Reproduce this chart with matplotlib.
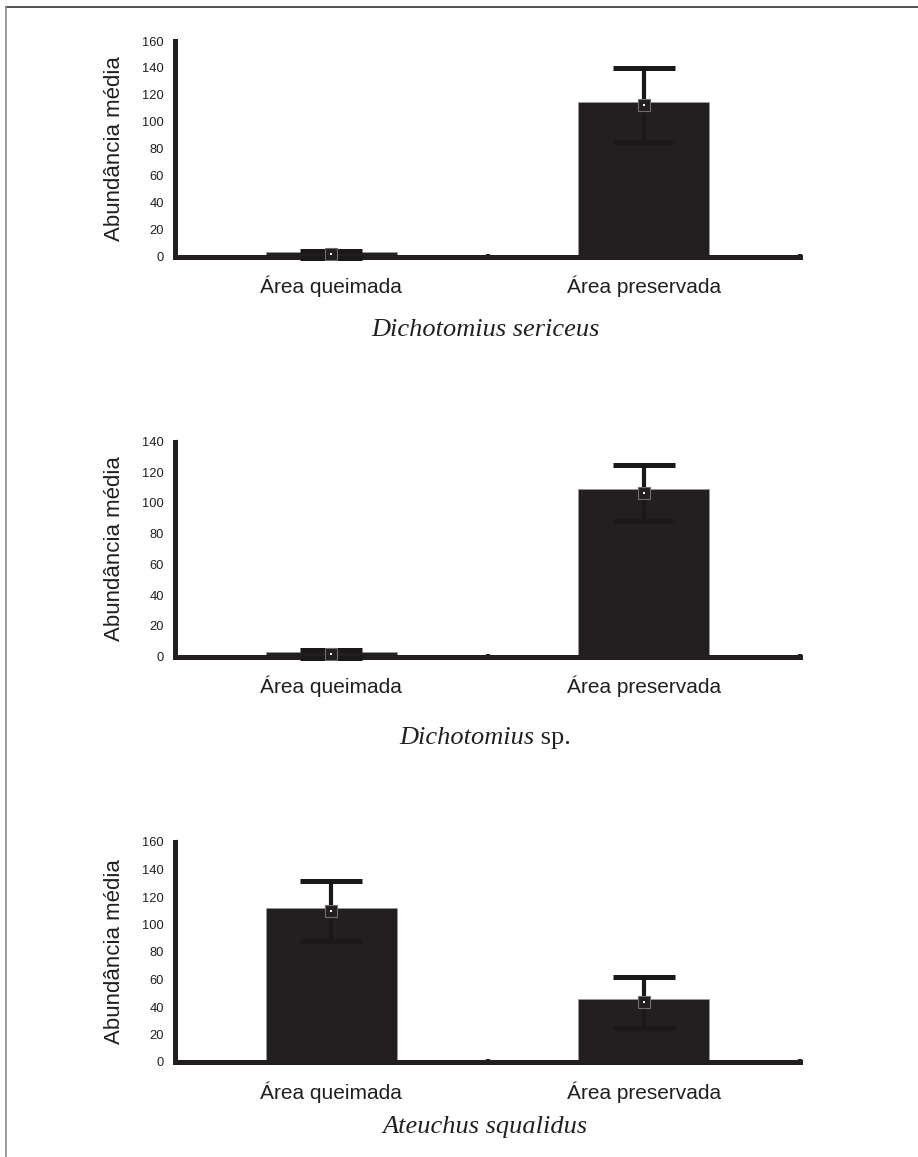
import numpy as np
import matplotlib
matplotlib.use("Agg")
import matplotlib.pyplot as plt
from matplotlib.lines import Line2D

plt.rcParams.update({
    "font.family": ["Liberation Sans", "DejaVu Sans"],
    "text.color": "#231f20",
    "axes.edgecolor": "#231f20",
})

categories = ["Área queimada", "Área preservada"]
species = ["Dichotomius sericeus", "Dichotomius", "Ateuchus squalidus"]
species_suffix = ["", " sp.", ""]

bar_sericeus = [3.5, 114.5]
mean_sericeus = [1.7, 112.5]
err_sericeus = [2.5, 27.5]

bar_sp = [3.0, 108.8]
mean_sp = [1.5, 106.5]
err_sp = [2.5, 18.5]

bar_squalidus = [112.0, 45.5]
mean_squalidus = [110.0, 43.5]
err_squalidus = [22.0, 18.5]

ymax = [160, 140, 160]

W, H = 918, 1157
DARK = "#231f20"

fig = plt.figure(figsize=(W / 100, H / 100), dpi=100)


def px_rect(left, right, top, bottom):
    return [left / W, (H - bottom) / H, (right - left) / W, (bottom - top) / H]


# pixel boxes of the three panels: left, right, top, bottom
boxes = [(175, 800, 41, 256.5), (175, 800, 441.5, 656.5), (175, 800, 842, 1062)]
title_y = [330, 738, 1127]
panels = [
    (bar_sericeus, mean_sericeus, err_sericeus),
    (bar_sp, mean_sp, err_sp),
    (bar_squalidus, mean_squalidus, err_squalidus),
]

renderer = fig.canvas.get_renderer()

for i, (bars, means, errs) in enumerate(panels):
    ax = fig.add_axes(px_rect(*boxes[i]))
    x = np.arange(len(categories)) + 0.5
    ax.bar(x, bars, width=0.42, color=DARK, edgecolor="#9a9a9a", linewidth=0.5, zorder=2)
    eb = ax.errorbar(x, means, yerr=errs, fmt="none", ecolor="#1b1819",
                     elinewidth=3.0, capsize=22, capthick=3.6, zorder=3)
    for art in eb.get_children():
        art.set_clip_on(False)
    ax.plot(x, means, "s", ms=8.5, mfc=DARK, mec="#6d6e71", mew=0.8, zorder=4, clip_on=False)
    ax.plot(x, means, "s", ms=1.6, color="white", mew=0, zorder=5, clip_on=False)

    ax.set_xlim(0, 2)
    ax.set_ylim(0, ymax[i])
    ax.set_yticks(np.arange(0, ymax[i] + 1, 20))
    ax.tick_params(axis="y", direction="in", length=2.5, width=3, color=DARK,
                   labelsize=9.3, labelcolor=DARK, pad=8)
    ax.set_xticks([1, 2])
    ax.set_xticklabels([])
    ax.tick_params(axis="x", which="major", direction="in", length=2, width=3, color=DARK)
    ax.set_xticks(x, categories, minor=True)
    ax.tick_params(axis="x", which="minor", length=0, labelsize=15, labelcolor=DARK, pad=14)

    for side in ["top", "right"]:
        ax.spines[side].set_visible(False)
    for side in ["left", "bottom"]:
        ax.spines[side].set_linewidth(3.6)
        ax.spines[side].set_color(DARK)
        ax.spines[side].set_capstyle("projecting")

    left, right, top, bottom = boxes[i]
    fig.text(114 / W, 1 - ((top + bottom) / 2) / H, "Abundância média", rotation=90,
             ha="center", va="center", fontsize=16, color=DARK)

    # species name, italic genus/species, roman suffix
    ty = 1 - title_y[i] / H
    if species_suffix[i]:
        t1 = fig.text(0, ty, species[i], family="Liberation Serif", style="italic",
                      fontsize=19, ha="left", va="center", color=DARK)
        t2 = fig.text(0, ty, species_suffix[i], family="Liberation Serif",
                      fontsize=19, ha="left", va="center", color=DARK)
        w1 = t1.get_window_extent(renderer).width
        w2 = t2.get_window_extent(renderer).width
        x0 = 485 - (w1 + w2) / 2
        t1.set_x(x0 / W)
        t2.set_x((x0 + w1) / W)
    else:
        fig.text(485 / W, ty, species[i], family="Liberation Serif", style="italic",
                 fontsize=19, ha="center", va="center", color=DARK)

# page frame (top and left only)
fig.add_artist(Line2D([6 / W, 1], [1 - 7 / H, 1 - 7 / H], color="#333333", lw=1.2))
fig.add_artist(Line2D([6 / W, 6 / W], [0, 1 - 7 / H], color="#8a8a8a", lw=1.2))

fig.savefig("out.png", dpi=100)
